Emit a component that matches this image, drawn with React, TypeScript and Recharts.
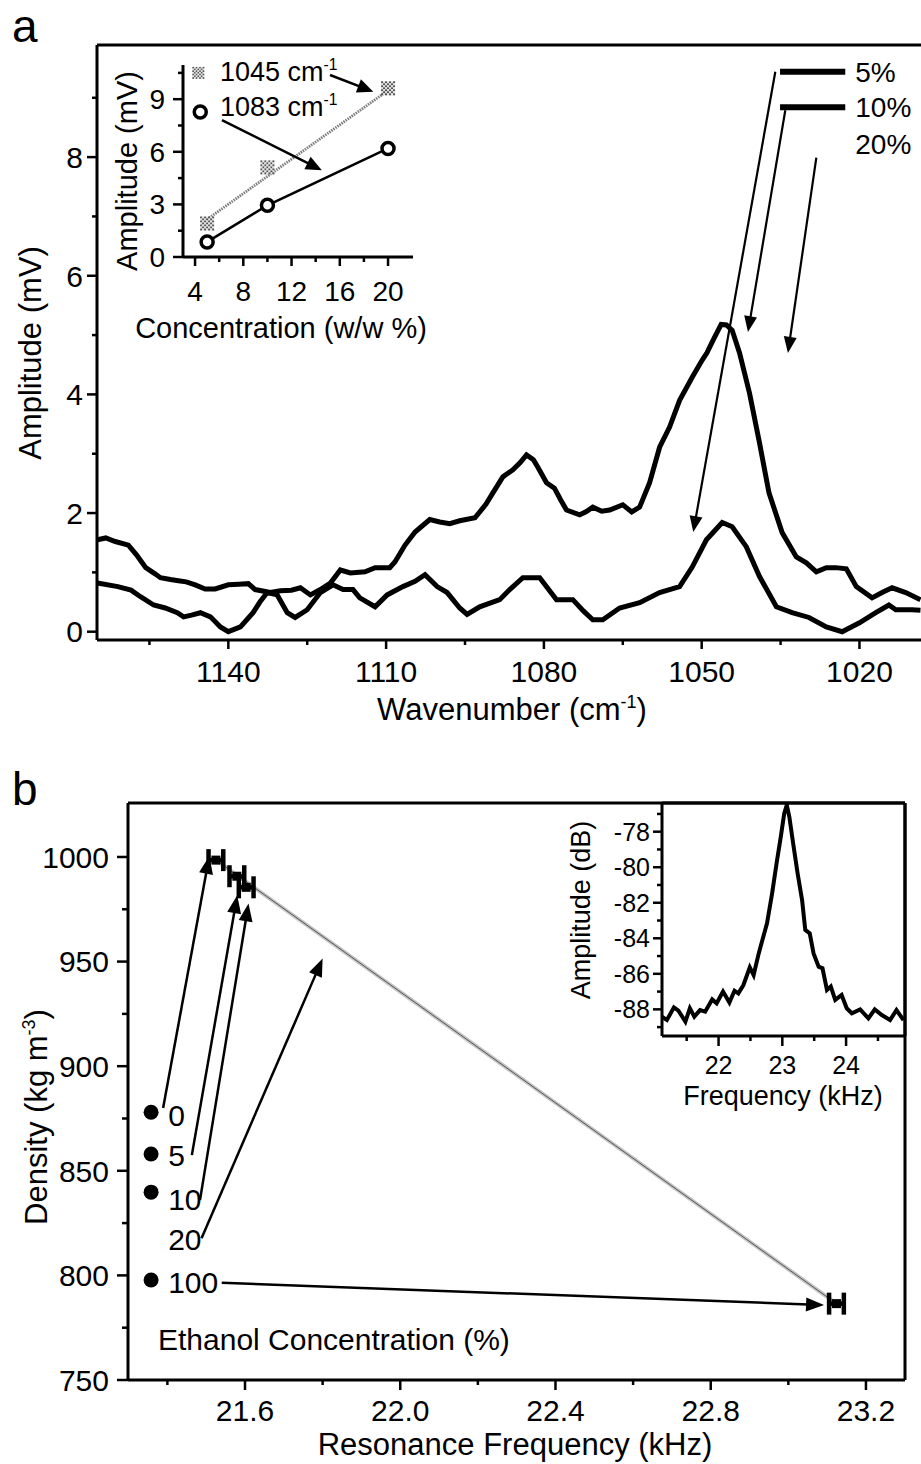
import React from "react";
import {
  LineChart,
  Line,
  ComposedChart,
  Scatter,
  ErrorBar,
  XAxis,
  YAxis,
  ReferenceLine,
  ReferenceDot,
} from "recharts";

const FONT = '"Liberation Sans", Arial, Helvetica, sans-serif';
const AXIS = { stroke: "#000", strokeWidth: 3 };

// ---------- panel a: difference spectra ----------
const WN_10 = [
  1164.9, 1163.3, 1161.5, 1159.0, 1157.5, 1155.7, 1154.0, 1152.9, 1151.0, 1149.5, 1148.0, 1146.3,
  1144.4, 1142.5, 1140.0, 1138.0, 1136.2, 1134.9, 1132.0, 1130.1, 1128.0, 1126.3, 1124.4, 1122.5,
  1120.6, 1118.7, 1116.8, 1114.0, 1112.1, 1109.3, 1108.3, 1106.4, 1104.5, 1101.7, 1099.8, 1097.9,
  1096.0, 1093.1, 1091.0, 1089.7, 1087.8, 1085.9, 1084.5, 1083.3, 1082.0, 1081.2, 1079.5, 1078.0,
  1076.8, 1075.7, 1073.2, 1072.0, 1070.7, 1069.0, 1067.5, 1065.0, 1063.3, 1061.8, 1059.9, 1058.0,
  1056.1, 1054.2, 1051.8, 1049.9, 1049.0, 1047.8, 1046.3, 1045.3, 1044.2, 1042.8, 1040.9, 1039.0,
  1037.2, 1034.7, 1032.0, 1030.1, 1028.2, 1026.3, 1024.5, 1022.5, 1020.6, 1017.6, 1015.7, 1013.8,
  1011.2, 1008.4,
];
const AMP_10 = [
  1.55, 1.58, 1.52, 1.46, 1.3, 1.08, 0.98, 0.91, 0.88, 0.86, 0.84, 0.79,
  0.72, 0.72, 0.79, 0.8, 0.81, 0.71, 0.66, 0.69, 0.7, 0.74, 0.62, 0.71,
  0.82, 1.04, 0.99, 1.01, 1.08, 1.08, 1.18, 1.46, 1.68, 1.89, 1.85, 1.82,
  1.87, 1.92, 2.15, 2.34, 2.61, 2.73, 2.85, 2.98, 2.9, 2.78, 2.51, 2.42,
  2.22, 2.05, 1.97, 2.02, 2.1, 2.03, 2.05, 2.14, 2.02, 2.1, 2.51, 3.11,
  3.45, 3.9, 4.29, 4.58, 4.7, 4.92, 5.18, 5.17, 5.08, 4.7, 4.02, 3.18,
  2.34, 1.67, 1.26, 1.16, 1.01, 1.08, 1.08, 1.06, 0.76, 0.57, 0.66, 0.74,
  0.66, 0.54,
];
const WN_5 = [
  1164.9, 1161.0, 1158.5, 1156.7, 1154.2, 1152.0, 1149.7, 1148.5, 1147.0, 1145.3, 1143.4, 1141.5,
  1140.0, 1137.7, 1135.3, 1134.0, 1132.6, 1130.7, 1128.8, 1127.3, 1125.0, 1122.5, 1120.1, 1118.2,
  1116.3, 1115.0, 1112.1, 1109.8, 1106.8, 1104.5, 1102.6, 1100.3, 1098.4, 1096.0, 1094.6, 1092.2,
  1088.4, 1086.5, 1084.0, 1080.8, 1077.6, 1074.5, 1072.5, 1070.7, 1068.8, 1065.6, 1061.8, 1058.0,
  1054.2, 1051.8, 1049.1, 1046.1, 1044.2, 1041.5, 1039.0, 1035.8, 1032.8, 1029.6, 1026.3, 1023.3,
  1020.0, 1016.9, 1014.4, 1013.1, 1010.0, 1008.4,
];
const AMP_5 = [
  0.82, 0.76, 0.7, 0.59, 0.45, 0.4, 0.32, 0.25, 0.28, 0.32, 0.25, 0.08,
  0.0, 0.08, 0.32, 0.5, 0.66, 0.62, 0.32, 0.24, 0.37, 0.66, 0.79, 0.71,
  0.71, 0.57, 0.42, 0.62, 0.76, 0.85, 0.96, 0.76, 0.66, 0.4, 0.29, 0.42,
  0.54, 0.71, 0.91, 0.91, 0.54, 0.54, 0.35, 0.2, 0.2, 0.4, 0.49, 0.66,
  0.76, 1.09, 1.55, 1.84, 1.77, 1.43, 0.93, 0.42, 0.32, 0.24, 0.08, 0.0,
  0.15, 0.32, 0.45, 0.37, 0.37, 0.36,
];
const A_X_DOMAIN = [1008.3, 1164.97];
const A_Y_DOMAIN = [-0.14, 9.89];
const A_X_MAJOR = [1140, 1110, 1080, 1050, 1020];
const A_X_MINOR = [1155, 1125, 1095, 1065, 1035];
const A_Y_MAJOR = [0, 2, 4, 6, 8];
const A_Y_MINOR = [1, 3, 5, 7, 9];
const A_LEGEND = ["5%", "10%", "20%"];
const A_LEGEND_Y = [9.44, 8.84, 8.22];
const A_LEGEND_LINE = [1035.1, 1022.7];
const A_LEGEND_TEXT_X = 1020.8;
const A_ARROWS = [
  [1036.0, 9.44, 1051.6, 1.68],
  [1034.1, 8.79, 1041.2, 5.05],
  [1028.2, 7.99, 1033.6, 4.7],
];

// ---------- panel a inset: amplitude vs concentration ----------
const CONC = [5, 10, 20];
const AMP_1045 = [1.91, 5.11, 9.62];
const AMP_1083 = [0.86, 2.95, 6.19];
const FIT_1045_X = [5, 20];
const FIT_1045_Y = [2.15, 9.5];
const IA_X_DOMAIN = [3, 22.07];
const IA_Y_DOMAIN = [0, 10.95];
const IA_X_MAJOR = [4, 8, 12, 16, 20];
const IA_X_MINOR = [6, 10, 14, 18];
const IA_Y_MAJOR = [0, 3, 6, 9];
const IA_Y_MINOR = [1.5, 4.5, 7.5, 10.5];
const IA_ARROWS = [
  [15.19, 10.38, 18.78, 9.43],
  [6.23, 7.81, 14.51, 4.95],
];

// ---------- panel b: density vs resonance frequency ----------
const B_FREQ = [21.525, 21.579, 21.603, 23.124];
const B_DENS = [998.5, 990.8, 985.5, 786.5];
const B_ERR = [0.019, 0.019, 0.019, 0.019];
const B_FIT_X = [21.525, 23.124];
const B_FIT_Y = [998.5, 786.5];
const B_X_DOMAIN = [21.2985, 23.3006];
const B_Y_DOMAIN = [750, 1025.8];
const B_X_MAJOR = [21.6, 22.0, 22.4, 22.8, 23.2];
const B_X_MINOR = [21.4, 21.8, 22.2, 22.6, 23.0];
const B_Y_MAJOR = [750, 800, 850, 900, 950, 1000];
const B_Y_MINOR = [775, 825, 875, 925, 975];
const B_LEGEND = ["0", "5", "10", "20", "100"];
const B_LEGEND_DOT_Y = [878.0, 858.0, 839.8, null, 797.8];
const B_LEGEND_TEXT_Y = [876.6, 857.5, 836.5, 817.4, 796.8];
const B_LEGEND_DOT_X = 21.358;
const B_LEGEND_TEXT_X = 21.402;
const B_ARROWS = [
  [21.389, 880.0, 21.508, 1000.5],
  [21.463, 857.5, 21.58, 981.7],
  [21.484, 836.0, 21.609, 977.8],
  [21.488, 817.8, 21.8, 951.5],
  [21.54, 796.5, 23.092, 785.8],
];

// ---------- panel b inset: resonance spectrum ----------
const FREQ = [
  21.11, 21.19, 21.3, 21.37, 21.48, 21.55, 21.62, 21.71, 21.79, 21.9, 21.97, 22.07,
  22.17, 22.25, 22.31, 22.39, 22.49, 22.55, 22.63, 22.68, 22.76, 22.84, 22.91, 22.98,
  23.03, 23.07, 23.11, 23.17, 23.24, 23.31, 23.36, 23.43, 23.49, 23.57, 23.63, 23.7,
  23.76, 23.83, 23.93, 24.01, 24.09, 24.22, 24.35, 24.45, 24.56, 24.69, 24.79, 24.9,
];
const DB = [
  -88.41, -88.6, -87.89, -88.07, -88.69, -87.94, -88.41, -88.04, -88.13, -87.44, -87.66, -87.0,
  -87.62, -86.95, -87.1, -86.63, -85.64, -86.07, -84.85, -84.19, -83.16, -81.47, -79.78, -78.19,
  -76.97, -76.5, -77.16, -78.66, -80.35, -81.85, -83.53, -83.72, -84.85, -85.6, -85.69, -86.91,
  -86.72, -87.47, -87.19, -87.94, -88.22, -88.0, -88.51, -88.0, -88.32, -88.6, -88.04, -88.6,
];
const IB_X_DOMAIN = [21.113, 24.924];
const IB_Y_DOMAIN = [-89.5, -76.385];
const IB_X_MAJOR = [22, 23, 24];
const IB_X_MINOR = [21.5, 22.5, 23.5, 24.5];
const IB_Y_MAJOR = [-88, -86, -84, -82, -80, -78];
const IB_Y_MINOR = [-89, -87, -85, -83, -81, -79, -77];

const zip = (xs: number[], ys: number[]) => xs.map((x, i) => ({ x, y: ys[i] }));

const near = (v: number, list: number[]) => list.some((m) => Math.abs(m - v) < 1e-6);

type TickCfg = {
  majors: number[];
  len: number;
  minor: number;
  gap: number;
  size: number;
  fmt?: (v: number) => string;
};

const xTick = (c: TickCfg) => (p: any) => {
  const v = Number(p.payload.value);
  const major = near(v, c.majors);
  return (
    <g>
      <line x1={p.x} x2={p.x} y1={p.y} y2={p.y + (major ? c.len : c.minor)} stroke="#000" strokeWidth={2.5} />
      {major && (
        <text
          x={p.x}
          y={p.y + c.len + c.gap + c.size * 0.716}
          textAnchor="middle"
          fontSize={c.size}
          fontFamily={FONT}
          fill="#000"
        >
          {c.fmt ? c.fmt(v) : String(v)}
        </text>
      )}
    </g>
  );
};

const yTick = (c: TickCfg) => (p: any) => {
  const v = Number(p.payload.value);
  const major = near(v, c.majors);
  return (
    <g>
      <line x1={p.x - (major ? c.len : c.minor)} x2={p.x} y1={p.y} y2={p.y} stroke="#000" strokeWidth={2.5} />
      {major && (
        <text
          x={p.x - c.len - c.gap}
          y={p.y + c.size * 0.358}
          textAnchor="end"
          fontSize={c.size}
          fontFamily={FONT}
          fill="#000"
        >
          {c.fmt ? c.fmt(v) : String(v)}
        </text>
      )}
    </g>
  );
};

const arrowShape = (head: number, half: number, sw: number) => (p: any) => {
  const { x1, y1, x2, y2 } = p;
  const dx = x2 - x1;
  const dy = y2 - y1;
  const L = Math.hypot(dx, dy) || 1;
  const ux = dx / L;
  const uy = dy / L;
  const bx = x2 - ux * head;
  const by = y2 - uy * head;
  const pts = `${x2},${y2} ${bx - uy * half},${by + ux * half} ${bx + uy * half},${by - ux * half}`;
  return (
    <g>
      <line x1={x1} y1={y1} x2={bx + ux * 2} y2={by + uy * 2} stroke="#000" strokeWidth={sw} />
      <polygon points={pts} fill="#000" />
    </g>
  );
};

const textShape = (label: React.ReactNode, size: number) => (p: any) => (
  <text x={p.cx} y={p.cy + size * 0.358} fontSize={size} fontFamily={FONT} fill="#000">
    {label}
  </text>
);

const Checker = ({ cx, cy, s = 14 }: { cx: number; cy: number; s?: number }) => {
  const n = 7;
  const c = s / n;
  const cells = [];
  for (let i = 0; i < n; i++) {
    for (let j = 0; j < n; j++) {
      cells.push(
        <rect
          key={i * n + j}
          x={cx - s / 2 + i * c}
          y={cy - s / 2 + j * c}
          width={c}
          height={c}
          fill={(i + j) % 2 ? "#e2e2e2" : "#555"}
        />
      );
    }
  }
  return <g>{cells}</g>;
};

const OpenCircle = (p: any) => (
  <circle cx={p.cx} cy={p.cy} r={6} fill="#fff" stroke="#000" strokeWidth={3.5} />
);

const ErrSquare = (p: any) => <rect x={p.cx - 4.5} y={p.cy - 4.5} width={9} height={9} fill="#000" />;

const sup = (base: string, s: string, size: number) => (
  <>
    {base}
    <tspan dy={-size * 0.38} fontSize={size * 0.58}>
      {s}
    </tspan>
  </>
);

// frame edge drawn as a reference line on the plot boundary
const edgeH = (y: number, key: string) => (
  <ReferenceLine key={key} y={y} ifOverflow="visible" stroke="#000" strokeWidth={3} />
);
const edgeV = (x: number, key: string) => (
  <ReferenceLine key={key} x={x} ifOverflow="visible" stroke="#000" strokeWidth={3} />
);

const spec10 = zip(WN_10, AMP_10);
const spec5 = zip(WN_5, AMP_5);
const sq1045 = zip(CONC, AMP_1045);
const c1083 = zip(CONC, AMP_1083);
const fit1045 = zip(FIT_1045_X, FIT_1045_Y);
const densPts = B_FREQ.map((x, i) => ({ x, y: B_DENS[i], err: B_ERR[i] }));
const densFit = zip(B_FIT_X, B_FIT_Y);
const reson = zip(FREQ, DB);

const sorted = (a: number[], b: number[]) => [...a, ...b].sort((p, q) => p - q);

export default function App() {
  return (
    <div
      style={{
        position: "absolute",
        left: 0,
        top: 0,
        width: 921,
        height: 1464,
        background: "#fff",
        overflow: "hidden",
        fontFamily: FONT,
      }}
    >
      {/* panel a main */}
      <div style={{ position: "absolute", left: 0, top: 0 }}>
        <LineChart width={921} height={720} margin={{ top: 45, right: 0, bottom: 0, left: 0 }}>
          <XAxis
            type="number"
            dataKey="x"
            domain={A_X_DOMAIN}
            reversed
            allowDataOverflow
            ticks={sorted(A_X_MAJOR, A_X_MINOR)}
            interval={0}
            tickSize={0}
            tickMargin={0}
            tickLine={false}
            axisLine={AXIS}
            height={80}
            tick={xTick({ majors: A_X_MAJOR, len: 9, minor: 5, gap: 12, size: 30 })}
          />
          <YAxis
            type="number"
            domain={A_Y_DOMAIN}
            allowDataOverflow
            ticks={sorted(A_Y_MAJOR, A_Y_MINOR)}
            interval={0}
            width={97}
            tickSize={0}
            tickMargin={0}
            tickLine={false}
            axisLine={AXIS}
            tick={yTick({ majors: A_Y_MAJOR, len: 10, minor: 5, gap: 4, size: 30 })}
          />
          {edgeH(A_Y_DOMAIN[1], "atop")}
          <Line data={spec10} dataKey="y" stroke="#000" strokeWidth={5} dot={false} activeDot={false} isAnimationActive={false} />
          <Line data={spec5} dataKey="y" stroke="#000" strokeWidth={5} dot={false} activeDot={false} isAnimationActive={false} />
          {A_LEGEND_Y.slice(0, 2).map((y, i) => (
            <ReferenceLine
              key={"ll" + i}
              ifOverflow="visible"
              segment={[
                { x: A_LEGEND_LINE[0], y },
                { x: A_LEGEND_LINE[1], y },
              ]}
              stroke="#000"
              strokeWidth={6}
            />
          ))}
          {A_LEGEND.map((t, i) => (
            <ReferenceDot key={"lt" + i} x={A_LEGEND_TEXT_X} y={A_LEGEND_Y[i]} r={0} ifOverflow="visible" shape={textShape(t, 28)} />
          ))}
          {A_ARROWS.map((a, i) => (
            <ReferenceLine
              key={"la" + i}
              ifOverflow="visible"
              segment={[
                { x: a[0], y: a[1] },
                { x: a[2], y: a[3] },
              ]}
              shape={arrowShape(16, 6.5, 2.2)}
            />
          ))}
        </LineChart>
      </div>

      {/* panel a inset */}
      <div style={{ position: "absolute", left: 100, top: 50 }}>
        <ComposedChart width={330} height={290} margin={{ top: 15, right: 17, bottom: 0, left: 0 }}>
          <XAxis
            type="number"
            dataKey="x"
            domain={IA_X_DOMAIN}
            allowDataOverflow
            ticks={sorted(IA_X_MAJOR, IA_X_MINOR)}
            interval={0}
            tickSize={0}
            tickMargin={0}
            tickLine={false}
            axisLine={AXIS}
            height={83}
            tick={xTick({ majors: IA_X_MAJOR, len: 9, minor: 5, gap: 15, size: 28 })}
          />
          <YAxis
            type="number"
            domain={IA_Y_DOMAIN}
            allowDataOverflow
            ticks={sorted(IA_Y_MAJOR, IA_Y_MINOR)}
            interval={0}
            width={83}
            tickSize={0}
            tickMargin={0}
            tickLine={false}
            axisLine={AXIS}
            tick={yTick({ majors: IA_Y_MAJOR, len: 10, minor: 5, gap: 8, size: 28 })}
          />
          <Line data={fit1045} dataKey="y" stroke="#7a7a7a" strokeWidth={2.8} strokeDasharray="1.5 1" dot={false} activeDot={false} isAnimationActive={false} />
          <Line data={c1083} dataKey="y" stroke="#000" strokeWidth={2.5} dot={OpenCircle} activeDot={false} isAnimationActive={false} />
          <Scatter data={sq1045} dataKey="y" isAnimationActive={false} shape={(p: any) => <Checker cx={p.cx} cy={p.cy} />} />
          <ReferenceDot x={4.27} y={10.5} r={0} ifOverflow="visible" shape={(p: any) => <Checker cx={p.cx} cy={p.cy} s={12} />} />
          <ReferenceDot x={4.43} y={8.27} r={0} ifOverflow="visible" shape={OpenCircle} />
          <ReferenceDot x={6.06} y={10.61} r={0} ifOverflow="visible" shape={textShape(sup("1045 cm", "-1", 27), 27)} />
          <ReferenceDot x={6.06} y={8.61} r={0} ifOverflow="visible" shape={textShape(sup("1083 cm", "-1", 27), 27)} />
          {IA_ARROWS.map((a, i) => (
            <ReferenceLine
              key={"ia" + i}
              ifOverflow="visible"
              segment={[
                { x: a[0], y: a[1] },
                { x: a[2], y: a[3] },
              ]}
              shape={arrowShape(16, 7, 2.5)}
            />
          ))}
        </ComposedChart>
      </div>

      {/* panel b main */}
      <div style={{ position: "absolute", left: 0, top: 760 }}>
        <ComposedChart width={921} height={704} margin={{ top: 43, right: 16, bottom: 0, left: 0 }}>
          <XAxis
            type="number"
            dataKey="x"
            domain={B_X_DOMAIN}
            allowDataOverflow
            ticks={sorted(B_X_MAJOR, B_X_MINOR)}
            interval={0}
            tickSize={0}
            tickMargin={0}
            tickLine={false}
            axisLine={AXIS}
            height={84}
            tick={xTick({ majors: B_X_MAJOR, len: 10, minor: 5, gap: 10, size: 30, fmt: (v) => v.toFixed(1) })}
          />
          <YAxis
            type="number"
            domain={B_Y_DOMAIN}
            allowDataOverflow
            ticks={sorted(B_Y_MAJOR, B_Y_MINOR)}
            interval={0}
            width={128}
            tickSize={0}
            tickMargin={0}
            tickLine={false}
            axisLine={AXIS}
            tick={yTick({ majors: B_Y_MAJOR, len: 11, minor: 6, gap: 8, size: 30 })}
          />
          {edgeH(B_Y_DOMAIN[1], "btop")}
          {edgeV(B_X_DOMAIN[1], "bright")}
          <Line data={densFit} dataKey="y" stroke="#c4c4c4" strokeWidth={4} dot={false} activeDot={false} isAnimationActive={false} />
          <Line data={densFit} dataKey="y" stroke="#555" strokeWidth={1} dot={false} activeDot={false} isAnimationActive={false} />
          <Scatter data={densPts} dataKey="y" isAnimationActive={false} shape={ErrSquare}>
            <ErrorBar dataKey="err" direction="x" width={11} stroke="#000" strokeWidth={4.5} />
          </Scatter>
          {B_LEGEND.map((t, i) => (
            <ReferenceDot key={"bt" + i} x={B_LEGEND_TEXT_X} y={B_LEGEND_TEXT_Y[i]} r={0} ifOverflow="visible" shape={textShape(t, 30)} />
          ))}
          {B_LEGEND_DOT_Y.map((y, i) =>
            y === null ? null : (
              <ReferenceDot key={"bd" + i} x={B_LEGEND_DOT_X} y={y} r={7.5} fill="#000" stroke="none" ifOverflow="visible" />
            )
          )}
          {B_ARROWS.map((a, i) => (
            <ReferenceLine
              key={"ba" + i}
              ifOverflow="visible"
              segment={[
                { x: a[0], y: a[1] },
                { x: a[2], y: a[3] },
              ]}
              shape={arrowShape(18, 7, 2.5)}
            />
          ))}
        </ComposedChart>
      </div>

      {/* panel b inset */}
      <div style={{ position: "absolute", left: 540, top: 790 }}>
        <LineChart width={381} height={330} margin={{ top: 13, right: 16, bottom: 0, left: 0 }}>
          <XAxis
            type="number"
            dataKey="x"
            domain={IB_X_DOMAIN}
            allowDataOverflow
            ticks={sorted(IB_X_MAJOR, IB_X_MINOR)}
            interval={0}
            tickSize={0}
            tickMargin={0}
            tickLine={false}
            axisLine={AXIS}
            height={84}
            tick={xTick({ majors: IB_X_MAJOR, len: 10, minor: 5, gap: 10, size: 25 })}
          />
          <YAxis
            type="number"
            domain={IB_Y_DOMAIN}
            allowDataOverflow
            ticks={sorted(IB_Y_MAJOR, IB_Y_MINOR)}
            interval={0}
            width={122}
            tickSize={0}
            tickMargin={0}
            tickLine={false}
            axisLine={AXIS}
            tick={yTick({ majors: IB_Y_MAJOR, len: 9, minor: 5, gap: 3, size: 25 })}
          />
          {edgeH(IB_Y_DOMAIN[1], "ibtop")}
          {edgeV(IB_X_DOMAIN[1], "ibright")}
          <Line data={reson} dataKey="y" stroke="#000" strokeWidth={4} dot={false} activeDot={false} isAnimationActive={false} />
        </LineChart>
      </div>

      {/* titles */}
      <svg
        width={921}
        height={1464}
        style={{ position: "absolute", left: 0, top: 0, pointerEvents: "none" }}
        fontFamily={FONT}
        fill="#000"
      >
        <text x={12} y={42} fontSize={46}>a</text>
        <text x={12} y={805} fontSize={46}>b</text>
        <text x={512} y={720} fontSize={31} textAnchor="middle">
          Wavenumber (cm<tspan dy={-12} fontSize={18}>-1</tspan>
          <tspan dy={12}>)</tspan>
        </text>
        <text transform="translate(41,353) rotate(-90)" fontSize={31} textAnchor="middle">
          Amplitude (mV)
        </text>
        <text transform="translate(137,171) rotate(-90)" fontSize={29} textAnchor="middle">
          Amplitude (mV)
        </text>
        <text x={281} y={338} fontSize={29} textAnchor="middle">
          Concentration (w/w %)
        </text>
        <text x={515} y={1455} fontSize={31} textAnchor="middle">
          Resonance Frequency (kHz)
        </text>
        <text transform="translate(47,1117) rotate(-90)" fontSize={31} textAnchor="middle">
          Density (kg m<tspan dy={-12} fontSize={18}>-3</tspan>
          <tspan dy={12}>)</tspan>
        </text>
        <text transform="translate(590,910) rotate(-90)" fontSize={27} textAnchor="middle">
          Amplitude (dB)
        </text>
        <text x={783} y={1105} fontSize={27} textAnchor="middle">
          Frequency (kHz)
        </text>
        <text x={158} y={1350} fontSize={30}>
          Ethanol Concentration (%)
        </text>
      </svg>
    </div>
  );
}
